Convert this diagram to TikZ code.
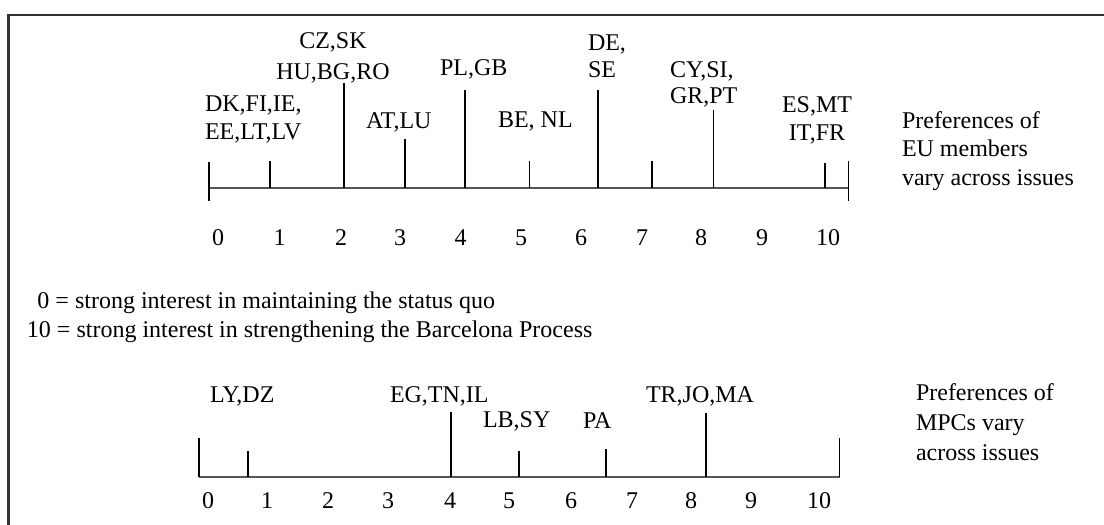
\documentclass[tikz,border=0pt]{standalone}
\usepackage{fontspec}
\setmainfont{Liberation Serif}
\definecolor{axisgray}{HTML}{555555}
\definecolor{framegray}{HTML}{333333}
\begin{document}
\begin{tikzpicture}[x=1pt,y=-1pt,
  lbl/.style={inner sep=0pt, outer sep=0pt, font=\fontsize{24}{28}\selectfont},
  axisline/.style={line width=2.6pt, draw=axisgray},
  tickline/.style={line width=1.9pt, draw=black},
  frameline/.style={line width=2.2pt, draw=framegray}]
\useasboundingbox (0,0) rectangle (1104,525);
% frame (runs past the right and bottom edges)
\coordinate (fbl) at (8.5,545);
\coordinate (ftl) at (8.5,15);
\coordinate (ftr) at (1125,15);
\draw[frameline] (fbl) -- (ftl) -- (ftr);

% ---------- upper scale: EU members ----------
\coordinate (ua0) at (209,188);
\coordinate (ua1) at (848.5,188);
\draw[axisline] (ua0) -- (ua1);
\foreach \x/\a/\b [count=\i] in {209/162/201, 270/161/188, 344/83/188, 405/139/188,
    465/90/188, 529.5/161/188, 598/90/188, 652/161/188, 713.5/110/188,
    825/163/188, 848.5/161/201}{
  \coordinate (ut\i) at (\x,\a);
  \coordinate (ub\i) at (\x,\b);
  \draw[tickline] (ut\i) -- (ub\i);
}
\foreach \x [count=\i from 0] in {218,279.5,341,400,460.5,521,581,642,701,762,828}
  \node[lbl, anchor=base] (un\i) at (\x,245) {\i};

% (base anchor of a multi-line node = baseline of its last line)
\node[lbl, anchor=base west, align=left] (dk) at (205,139) {DK,FI,IE,\\EE,LT,LV};
\node[lbl, anchor=base, align=center] (cz) at (333,79) {CZ,SK\\[3pt]HU,BG,RO};
\node[lbl, anchor=base west] (at) at (366,128) {AT,LU};
\node[lbl, anchor=base west] (pl) at (440,75) {PL,GB};
\node[lbl, anchor=base west] (be) at (498,127) {BE, NL};
\node[lbl, anchor=base west, align=left] (de) at (588,77) {DE,\\[-1pt]SE};
\node[lbl, anchor=base west, align=left] (cy) at (670,103) {CY,SI,\\[-2pt]GR,PT};
\node[lbl, anchor=base, align=center] (es) at (817,140) {ES,MT\\IT,FR};
\node[lbl, anchor=base west, align=left] (preu) at (902,185)
  {Preferences of\\[0.5pt]EU members\\[0.5pt]vary across issues};

% ---------- key ----------
\node[lbl, anchor=base west] (k0) at (37.5,308) {0 = strong interest in maintaining the status quo};
\node[lbl, anchor=base west] (k10) at (27,337) {10 = strong interest in strengthening the Barcelona Process};

% ---------- lower scale: MPCs ----------
\coordinate (la0) at (199,477);
\coordinate (la1) at (839.5,477);
\draw[axisline] (la0) -- (la1);
\foreach \x/\a/\b [count=\i] in {199/438/477, 248/451/477, 451/412/477, 519/451/477,
    606/449/477, 706/413/477, 839.5/438/477}{
  \coordinate (lt\i) at (\x,\a);
  \coordinate (lb\i) at (\x,\b);
  \draw[tickline] (lt\i) -- (lb\i);
}
\foreach \x [count=\i from 0] in {208,267,328,388,450,509,571,632,691,751,819}
  \node[lbl, anchor=base] (ln\i) at (\x,508) {\i};

\node[lbl, anchor=base west] (ly) at (210,402) {LY,DZ};
\node[lbl, anchor=base west] (eg) at (390,402) {EG,TN,IL};
\node[lbl, anchor=base west] (lbsy) at (483,427) {LB,SY};
\node[lbl, anchor=base west] (pa) at (583,428) {PA};
\node[lbl, anchor=base west] (tr) at (646,402) {TR,JO,MA};
\node[lbl, anchor=base west, align=left] (prm) at (916,460)
  {Preferences of\\[2pt]MPCs vary\\[2pt]across issues};
\end{tikzpicture}
\end{document}
